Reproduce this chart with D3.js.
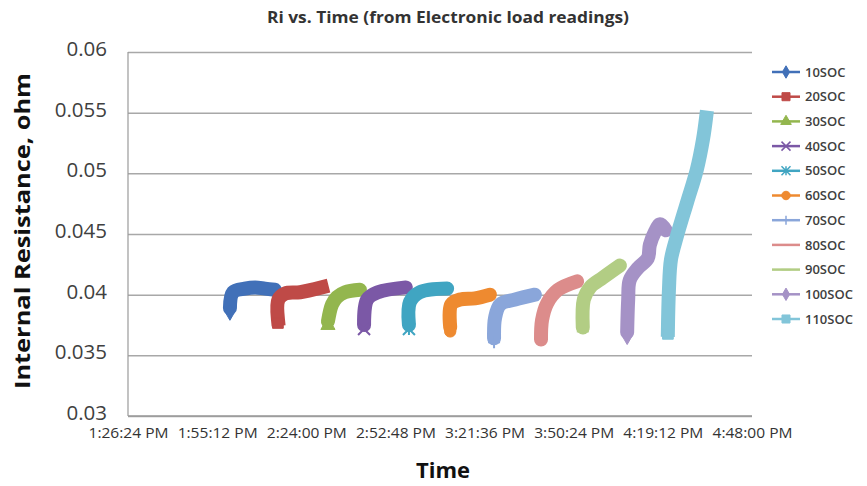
<!DOCTYPE html>
<html>
<head>
<meta charset="utf-8">
<script src="https://cdn.jsdelivr.net/npm/d3@7"></script>
<style>
body{margin:0;background:#fff;}
text{font-family:"Open Sans",sans-serif;}
</style>
</head>
<body>
<svg id="chart" width="867" height="486"></svg>
<script>
// readings, [time, ohm]
var soc10 = [["13:59:20",0.0389],["14:00:20",0.0402],["14:04:10",0.0405],["14:07:30",0.0406],["14:10:40",0.0405],["14:13:50",0.0404]];
var soc20 = [["14:14:50",0.0380],["14:15:00",0.0396],["14:17:10",0.0401],["14:22:00",0.0402],["14:29:00",0.0406]];
var soc30 = [["14:31:00",0.0378],["14:32:20",0.0392],["14:33:55",0.0398],["14:36:30",0.0402],["14:41:20",0.0404]];
var soc40 = [["14:42:40",0.0375],["14:43:40",0.0396],["14:47:10",0.0402],["14:56:10",0.0406]];
var soc50 = [["14:57:10",0.0375],["14:57:30",0.0394],["15:00:40",0.0402],["15:09:30",0.0405]];
var soc60 = [["15:10:30",0.0373],["15:10:50",0.0392],["15:13:40",0.0396],["15:18:30",0.0397],["15:23:20",0.0400]];
var soc70 = [["15:24:40",0.0364],["15:25:00",0.0381],["15:26:40",0.0392],["15:31:30",0.0396],["15:37:50",0.0400]];
var soc80 = [["15:39:50",0.0363],["15:40:10",0.0379],["15:41:50",0.0393],["15:45:20",0.0404],["15:51:30",0.0411]];
var soc90 = [["15:53:20",0.0373],["15:53:40",0.0396],["15:55:40",0.0406],["15:59:50",0.0414],["16:05:20",0.0424]];
var soc100 = [["16:07:40",0.0369],["16:08:00",0.0396],["16:08:30",0.0412],["16:11:10",0.0422],["16:14:20",0.0430],["16:15:00",0.0441],["16:16:40",0.0452],["16:18:20",0.0458],["16:20:10",0.0453]];
var soc110 = [["16:20:50",0.0371],["16:21:10",0.0404],["16:21:50",0.0429],["16:23:50",0.0449],["16:27:00",0.0476],["16:30:10",0.0503],["16:32:10",0.0528],["16:33:10",0.0546]];

var seriesNames = ["10SOC","20SOC","30SOC","40SOC","50SOC","60SOC","70SOC","80SOC","90SOC","100SOC","110SOC"];
var seriesData = [soc10,soc20,soc30,soc40,soc50,soc60,soc70,soc80,soc90,soc100,soc110];
var yTicks = [0.03,0.035,0.04,0.045,0.05,0.055,0.06];
var xTicks = ["13:26:24","13:55:12","14:24:00","14:52:48","15:21:36","15:50:24","16:19:12","16:48:00"];

var colors = ["#4170b8","#bf4a47","#93b64e","#7b58a6","#40a5c2","#ee8a30","#8aa6da","#dc8c8b","#b2cd84","#a592c6","#82c5d9"];
var markers = ["diamond","square","triangle","times","asterisk","circle","plus","dash","longdash","diamond","square"];

var parseT = d3.timeParse("%H:%M:%S");
var fmtT = d3.timeFormat("%-I:%M:%S %p");

var svg = d3.select("#chart");
var margin = {left:128, top:52, right:752, bottom:416};

var x = d3.scaleTime()
    .domain([parseT(xTicks[0]), parseT(xTicks[xTicks.length-1])])
    .range([margin.left, margin.right]);
var y = d3.scaleLinear()
    .domain([0.03, 0.06])
    .range([margin.bottom, margin.top]);

// gridlines
svg.append("g")
    .attr("transform","translate(" + margin.left + ",0)")
    .call(d3.axisLeft(y).tickValues(yTicks).tickSize(-(margin.right-margin.left)).tickFormat(""))
    .call(function(g){
        g.select(".domain").remove();
        g.selectAll("line").attr("stroke","#a8a8a8").attr("stroke-width",1.5);
    });

// axis lines
svg.append("line").attr("x1",margin.left).attr("x2",margin.left)
    .attr("y1",margin.top).attr("y2",margin.bottom)
    .attr("stroke","#9a9a9a").attr("stroke-width",1.2);
svg.append("line").attr("x1",margin.left).attr("x2",margin.right)
    .attr("y1",margin.bottom).attr("y2",margin.bottom)
    .attr("stroke","#9a9a9a").attr("stroke-width",1.5);

// y labels
svg.append("g")
    .attr("transform","translate(" + margin.left + ",-3)")
    .call(d3.axisLeft(y).tickValues(yTicks).tickSize(0).tickPadding(21).tickFormat(function(d){ return String(d); }))
    .call(function(g){
        g.select(".domain").remove();
        g.selectAll("text").attr("font-size","20.5px").attr("fill","#404040").attr("font-family","'Open Sans',sans-serif");
    });

// x labels
svg.append("g")
    .attr("transform","translate(0," + margin.bottom + ")")
    .call(d3.axisBottom(x).tickValues(xTicks.map(parseT)).tickSize(0).tickPadding(12).tickFormat(fmtT))
    .call(function(g){
        g.select(".domain").remove();
        g.selectAll("text").attr("font-size","14px").attr("fill","#333").attr("font-family","'Open Sans',sans-serif")
            .attr("textLength",80).attr("lengthAdjust","spacingAndGlyphs");
    });

function markerPath(type, s)
{
    var h = s/2;
    if(type == "diamond") return d3.symbol(d3.symbolDiamond, s*s*0.55)();
    if(type == "square") return d3.symbol(d3.symbolSquare, s*s*0.8)();
    if(type == "triangle") return d3.symbol(d3.symbolTriangle, s*s*0.6)();
    if(type == "circle") return d3.symbol(d3.symbolCircle, s*s*0.7)();
    if(type == "times") return "M"+(-h)+","+(-h)+"L"+h+","+h+"M"+(-h)+","+h+"L"+h+","+(-h);
    if(type == "plus") return "M"+(-h)+",0L"+h+",0M0,"+(-h)+"L0,"+h;
    if(type == "asterisk") return "M"+(-h)+","+(-h)+"L"+h+","+h+"M"+(-h)+","+h+"L"+h+","+(-h)+"M0,"+(-h)+"L0,"+h;
    if(type == "dash") return "M"+(-h*0.6)+",0L"+(h*0.6)+",0";
    if(type == "longdash") return "M"+(-h)+",0L"+h+",0";
    return "";
}
var strokeMarkers = ["times","plus","asterisk","dash","longdash"];

var plot = svg.append("g");
seriesData.forEach(function(data, i){
    var g = plot.append("g").attr("class","series");
    g.append("path")
        .datum(data)
        .attr("d", d3.line()
            .x(function(d){ return x(parseT(d[0])); })
            .y(function(d){ return y(d[1]); })
            .curve(d3.curveCatmullRom.alpha(0.5)))
        .attr("fill","none")
        .attr("stroke",colors[i])
        .attr("stroke-width",14)
        .attr("stroke-linejoin","round")
        .attr("stroke-linecap", markers[i] == "square" ? "square" : "round");
    //marker at first reading
    var first = data[0];
    var isStroke = strokeMarkers.indexOf(markers[i]) >= 0;
    g.append("path")
        .attr("d", markerPath(markers[i], 12))
        .attr("transform","translate(" + x(parseT(first[0])) + "," + (y(first[1]) + 4) + ")")
        .attr("fill", isStroke ? "none" : colors[i])
        .attr("stroke", colors[i])
        .attr("stroke-width", isStroke ? 2 : 1);
});

// legend
var legend = svg.append("g");
seriesNames.forEach(function(name, i){
    var ly = 72 + i*24.7;
    var lg = legend.append("g").attr("transform","translate(772," + ly + ")");
    lg.append("line").attr("x1",0).attr("x2",28).attr("y1",0).attr("y2",0)
        .attr("stroke",colors[i]).attr("stroke-width",2.5);
    var isStroke = strokeMarkers.indexOf(markers[i]) >= 0;
    lg.append("path")
        .attr("d", markerPath(markers[i], 9))
        .attr("transform","translate(14,0)")
        .attr("fill", isStroke ? "none" : colors[i])
        .attr("stroke", colors[i])
        .attr("stroke-width", isStroke ? 1.5 : 1);
    lg.append("text")
        .attr("x",33).attr("y",0).attr("dy","0.36em")
        .attr("font-size","13px").attr("font-weight","600").attr("fill","#404040")
        .text(name);
});

// titles
svg.append("text")
    .attr("x",448).attr("y",23)
    .attr("text-anchor","middle")
    .attr("font-size","16px").attr("font-weight","bold").attr("fill","#333")
    .attr("textLength",362).attr("lengthAdjust","spacingAndGlyphs")
    .text("Ri vs. Time (from Electronic load readings)");

svg.append("text")
    .attr("x",443).attr("y",478)
    .attr("text-anchor","middle")
    .attr("font-size","22px").attr("font-weight","bold").attr("fill","#111")
    .text("Time");

svg.append("text")
    .attr("transform","translate(30,231) rotate(-90)")
    .attr("text-anchor","middle")
    .attr("font-size","22px").attr("font-weight","bold").attr("fill","#111")
    .attr("textLength",316).attr("lengthAdjust","spacingAndGlyphs")
    .text("Internal Resistance, ohm");
</script>
</body>
</html>
